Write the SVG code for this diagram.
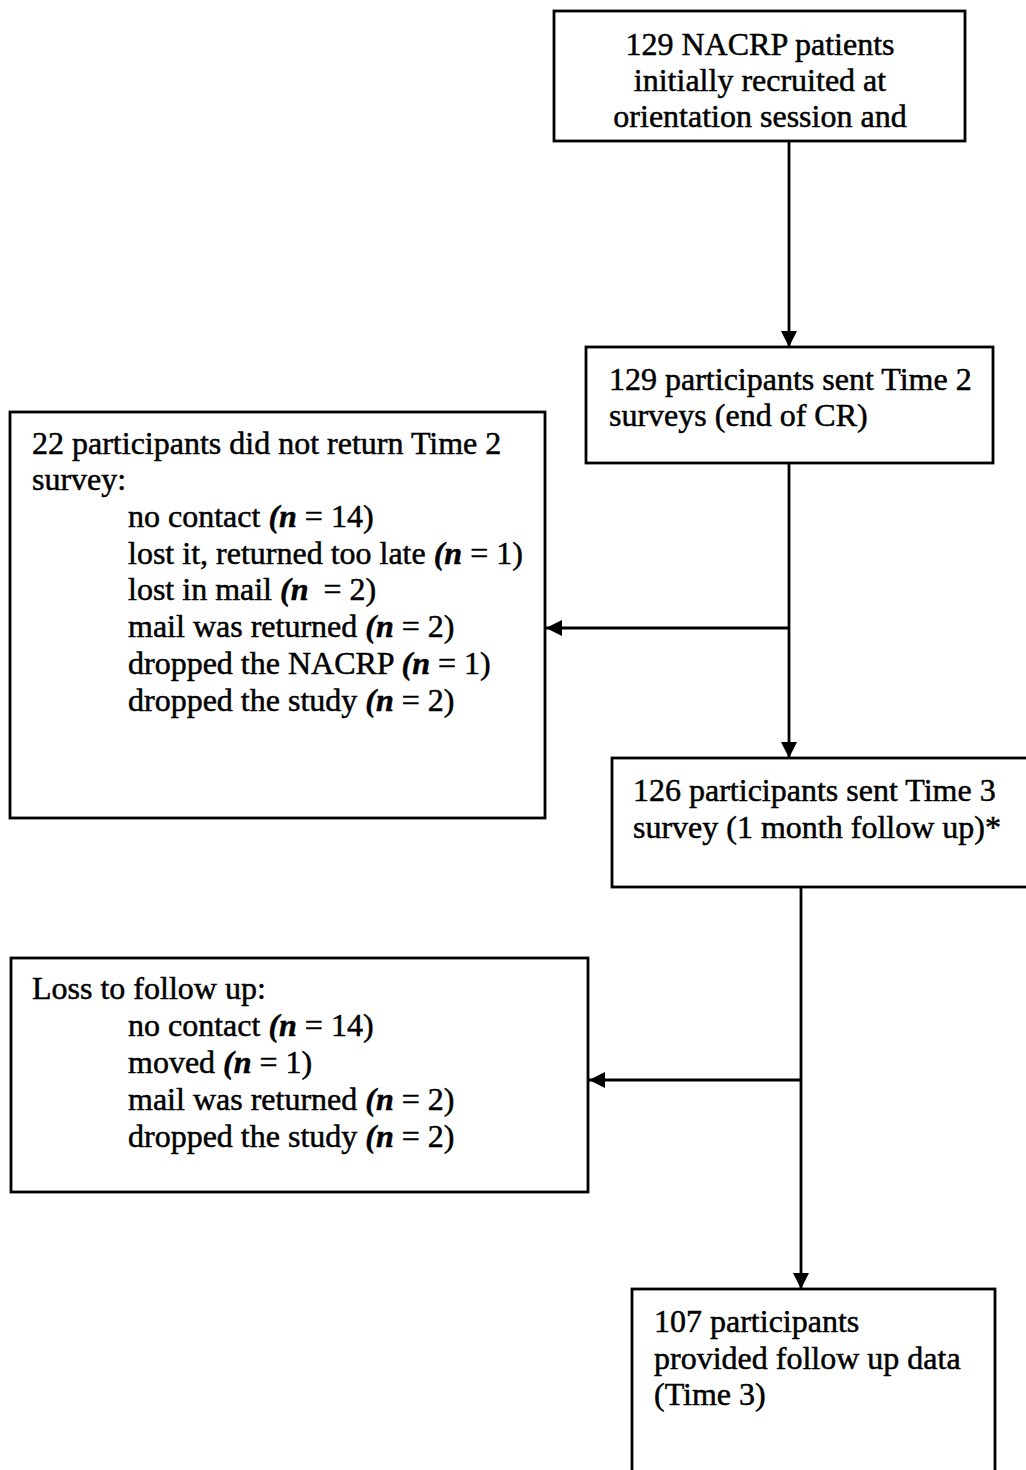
<svg xmlns="http://www.w3.org/2000/svg" width="1026" height="1470" viewBox="0 0 1026 1470">
<defs>
<style>
.box{fill:#fff;stroke:#000;stroke-width:2.8}
.t{font-family:"Liberation Serif","Times New Roman",serif;font-size:32px;fill:#000;stroke:#000;stroke-width:0.5}
.c{text-anchor:middle}
.i{font-style:italic;font-weight:bold}
.ln{stroke:#000;stroke-width:2.8;fill:none}
</style>
<marker id="ah" viewBox="0 0 10 10" refX="10" refY="5" markerWidth="16" markerHeight="16" markerUnits="userSpaceOnUse" orient="auto">
<path d="M0,0 L10,5 L0,10 Z" fill="#000"/>
</marker>
</defs>
<rect width="1026" height="1470" fill="#fff"/>
<g id="connectors">
<line class="ln" x1="789" y1="141" x2="789" y2="347" marker-end="url(#ah)"/>
<line class="ln" x1="789" y1="463" x2="789" y2="758" marker-end="url(#ah)"/>
<line class="ln" x1="789" y1="628" x2="546" y2="628" marker-end="url(#ah)"/>
<line class="ln" x1="801" y1="887" x2="801" y2="1289" marker-end="url(#ah)"/>
<line class="ln" x1="801" y1="1080" x2="589" y2="1080" marker-end="url(#ah)"/>
</g>
<g id="node-recruited">
<rect class="box" x="554" y="11" width="411" height="130"/>
<text class="t c" x="760" y="55">129 NACRP patients</text>
<text class="t c" x="760" y="91">initially recruited at</text>
<text class="t c" x="760" y="127">orientation session and</text>
</g>
<g id="node-time2">
<rect class="box" x="586" y="347" width="407" height="116"/>
<text class="t" x="609" y="390">129 participants sent Time 2</text>
<text class="t" x="609" y="426">surveys (end of CR)</text>
</g>
<g id="node-notreturned">
<rect class="box" x="10" y="412" width="535" height="406"/>
<text class="t" x="32" y="454">22 participants did not return Time 2</text>
<text class="t" x="32" y="490">survey:</text>
<text class="t" x="128" y="527">no contact <tspan class="i">(n</tspan> = 14)</text>
<text class="t" x="128" y="564">lost it, returned too late <tspan class="i">(n</tspan> = 1)</text>
<text class="t" x="128" y="600">lost in mail <tspan class="i">(n</tspan> <tspan dx="7">= 2)</tspan></text>
<text class="t" x="128" y="637">mail was returned <tspan class="i">(n</tspan> = 2)</text>
<text class="t" x="128" y="674">dropped the NACRP <tspan class="i">(n</tspan> = 1)</text>
<text class="t" x="128" y="711">dropped the study <tspan class="i">(n</tspan> = 2)</text>
</g>
<g id="node-time3">
<rect class="box" x="612" y="758" width="420" height="129"/>
<text class="t" x="633" y="801">126 participants sent Time 3</text>
<text class="t" x="633" y="838">survey (1 month follow up)*</text>
</g>
<g id="node-loss">
<rect class="box" x="11" y="958" width="577" height="234"/>
<text class="t" x="32" y="999">Loss to follow up:</text>
<text class="t" x="128" y="1036">no contact <tspan class="i">(n</tspan> = 14)</text>
<text class="t" x="128" y="1073">moved <tspan class="i">(n</tspan> = 1)</text>
<text class="t" x="128" y="1110">mail was returned <tspan class="i">(n</tspan> = 2)</text>
<text class="t" x="128" y="1147">dropped the study <tspan class="i">(n</tspan> = 2)</text>
</g>
<g id="node-followup">
<rect class="box" x="632" y="1289" width="363" height="200"/>
<text class="t" x="654" y="1332">107 participants</text>
<text class="t" x="654" y="1369">provided follow up data</text>
<text class="t" x="654" y="1405">(Time 3)</text>
</g>
</svg>
